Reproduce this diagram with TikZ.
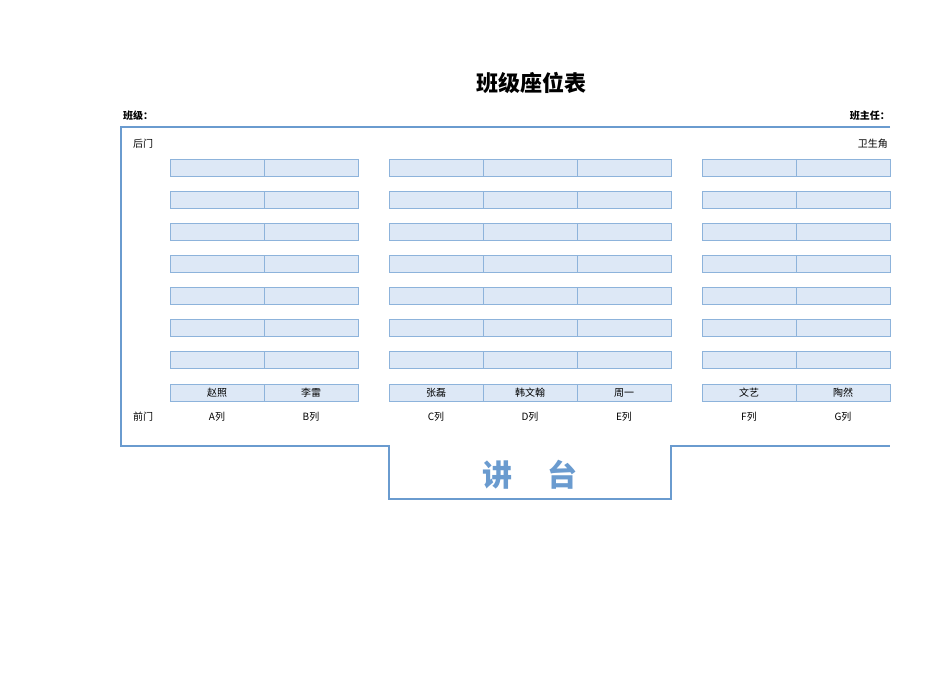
\documentclass[tikz,border=0pt]{standalone}
\usepackage{fontspec}
\setmainfont{Noto Sans CJK SC}
\usetikzlibrary{positioning}
\definecolor{seatfill}{HTML}{DDE8F6}
\definecolor{seatline}{HTML}{8DB3DB}
\definecolor{framec}{HTML}{6A9BCF}
\tikzset{
seat/.style={draw=seatline,fill=seatfill,line width=1pt,minimum width=94pt,minimum height=17pt,inner sep=0pt,font=\fontsize{10}{10}\selectfont},
lbl/.style={font=\fontsize{10}{10}\selectfont,inner sep=0pt},
frame/.style={draw=framec,line width=1.6pt}
}
\begin{document}
\begin{tikzpicture}[x=1pt,y=-1pt]
\useasboundingbox (0,0) rectangle (950,672);
\node[font=\fontsize{22}{22}\bfseries\selectfont] (title) at (531,83) {班级座位表};
\node[lbl,font=\fontsize{10}{10}\bfseries\selectfont,anchor=west] (cls) at (123,116) {班级：};
\node[lbl,font=\fontsize{10}{10}\bfseries\selectfont,anchor=east] (tch) at (890,116) {班主任：};
% frame
\draw[frame] (890,127) -- (121,127) -- (121,446) -- (389,446) -- (389,499) -- (671,499) -- (671,446) -- (890,446);
\node[lbl,anchor=west] (back) at (133,144) {后门};
\node[lbl,anchor=east] (wc) at (888,144) {卫生角};
\node[lbl,anchor=west] (front) at (133,417) {前门};
\node[font=\fontsize{30}{30}\bfseries\selectfont,text=framec] (desk) at (530,475) {讲\hspace{1.2em}台};
% seats
\foreach \c/\x in {A/217,B/311,C/436,D/530,E/624,F/749,G/843}{
  \foreach \r/\y in {1/167.5,2/199.5,3/231.5,4/264,5/296,6/328,7/360}
    \node[seat] (\c\r) at (\x,\y) {};
  \node[lbl] (col\c) at (\x,417) {\c 列};
}
\foreach \c/\x/\n in {A/217/赵照,B/311/李雷,C/436/张磊,D/530/韩文翰,E/624/周一,F/749/文艺,G/843/陶然}
  \node[seat] (\c8) at (\x,392.5) {\n};
\end{tikzpicture}
\end{document}
